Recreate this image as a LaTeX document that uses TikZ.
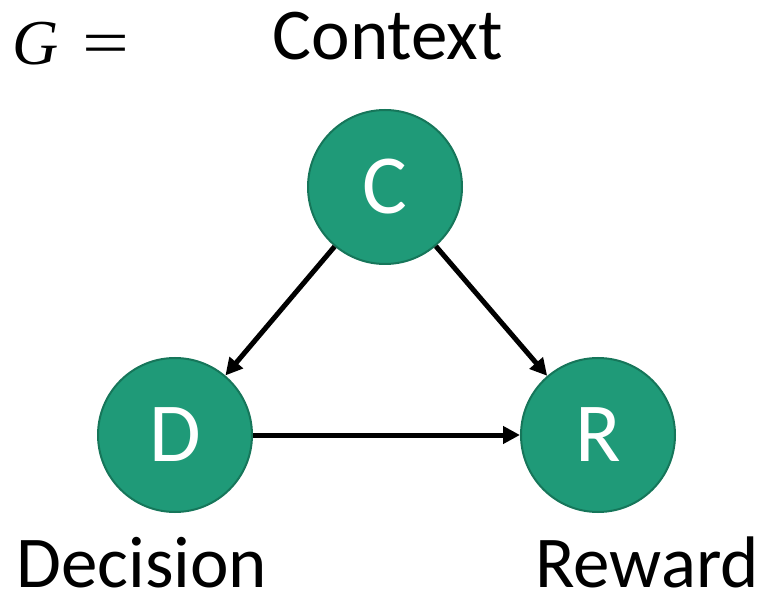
\documentclass[tikz,border=0pt]{standalone}
\usepackage{graphicx}
\usepackage{fontspec}
\setmainfont{Carlito}
\newfontfamily\mathlike{Liberation Serif}
\usetikzlibrary{arrows.meta}
\definecolor{nodefill}{RGB}{31,154,120}
\definecolor{nodeline}{RGB}{22,118,90}
\tikzset{
  var/.style={circle, draw=nodeline, line width=2pt, fill=nodefill, minimum size=154pt, inner sep=0pt, text=white, font=\fontsize{84}{90}\selectfont},
  lbl/.style={font=\fontsize{73}{80}\selectfont, inner sep=0pt, text depth=0pt},
  edge/.style={line width=5pt, -{Triangle[length=17pt,width=17pt]}}
}
\begin{document}
\begin{tikzpicture}[x=1pt,y=-1pt]
\useasboundingbox (0,0) rectangle (764,596);
\node[var] (C) at (385,187) {C};
\node[var] (D) at (175,435) {D};
\node[var] (R) at (598,435) {R};
\node[lbl, anchor=base] (ctx) at (388,60) {Context};
\node[lbl, anchor=base west] (dec) at (16,587) {Decision};
\node[lbl, anchor=base east] (rew) at (759,587) {Reward};
\node[inner sep=0pt, anchor=base west, text depth=0pt, font=\mathlike\fontsize{64}{70}\selectfont] (g) at (12,65) {\textit{G}\hspace{24pt}\scalebox{1.3}[1]{=}};
\draw[edge] (C) -- (D);
\draw[edge] (C) -- (R);
\draw[edge] (D) -- (R);
\end{tikzpicture}
\end{document}
